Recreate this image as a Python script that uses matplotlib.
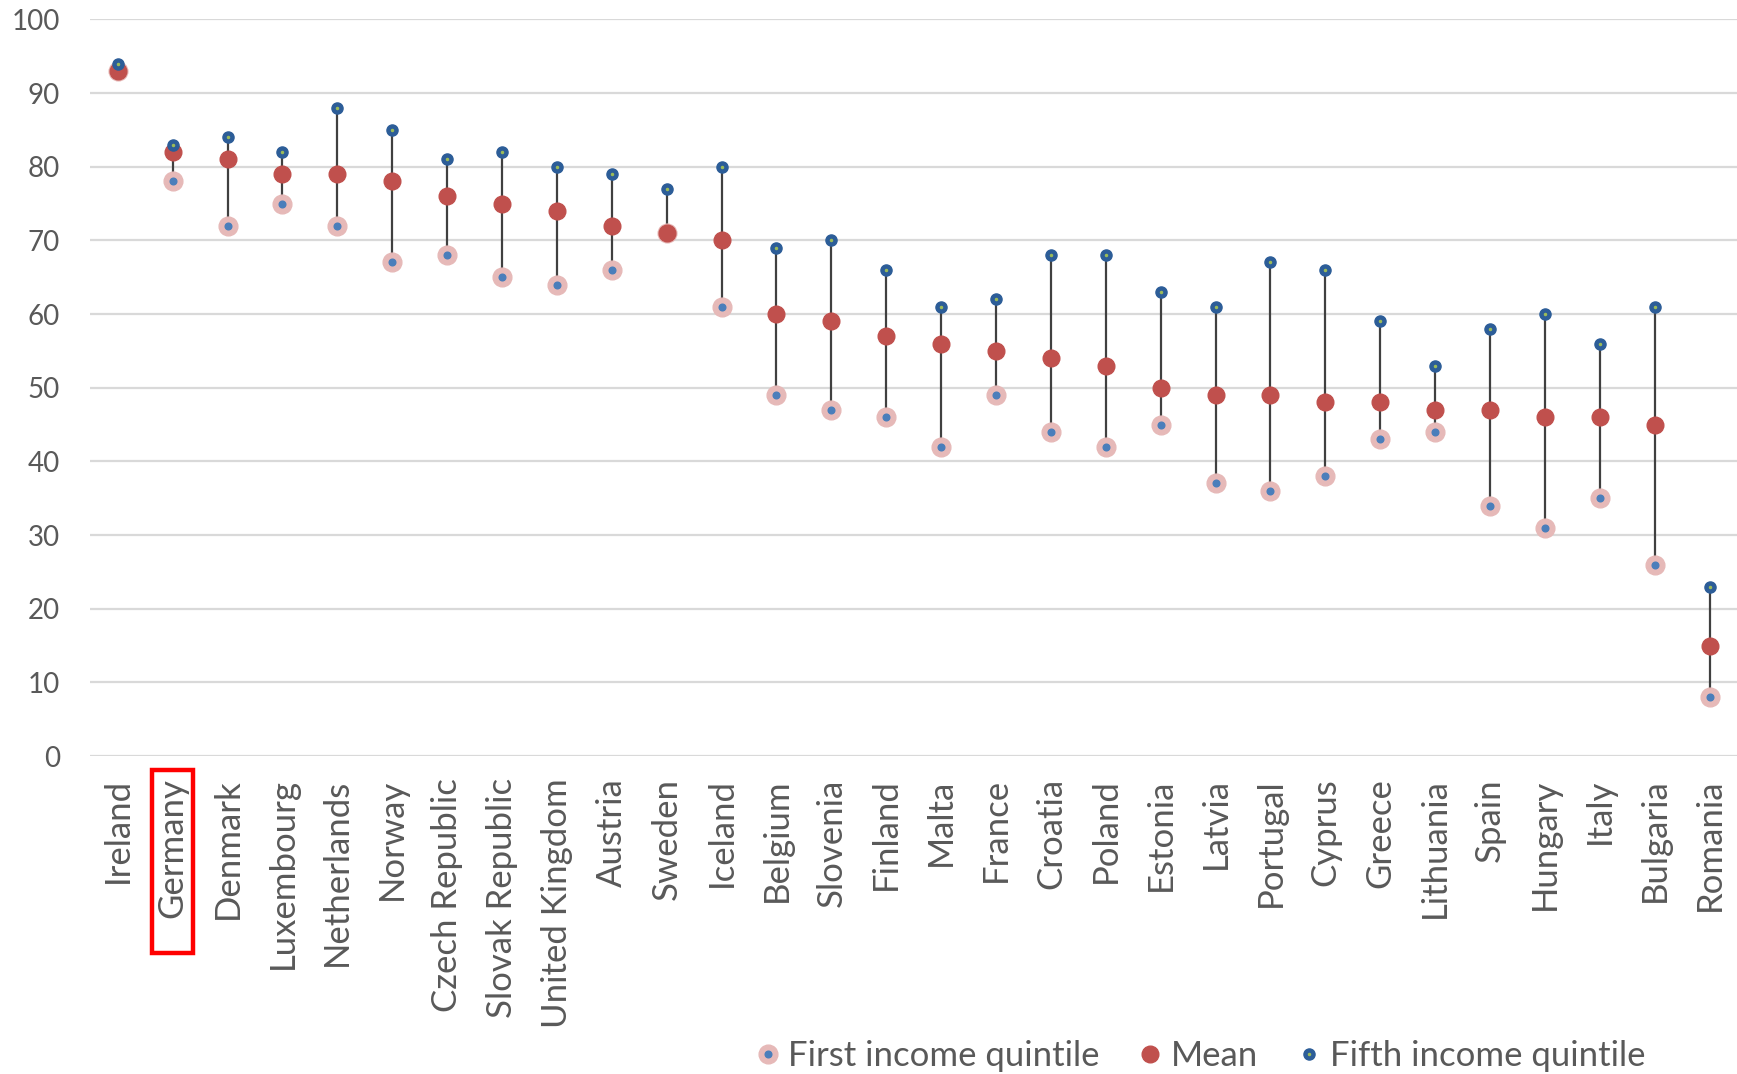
import numpy as np
import matplotlib.pyplot as plt
from matplotlib.lines import Line2D
from matplotlib.patches import Rectangle
from matplotlib.legend_handler import HandlerTuple
import matplotlib.transforms as mtransforms

plt.rcParams['font.family'] = ['Lato', 'DejaVu Sans']

# pays, tries par moyenne decroissante
countries = ["Ireland", "Germany", "Denmark", "Luxembourg", "Netherlands", "Norway",
             "Czech Republic", "Slovak Republic", "United Kingdom", "Austria", "Sweden",
             "Iceland", "Belgium", "Slovenia", "Finland", "Malta", "France", "Croatia",
             "Poland", "Estonia", "Latvia", "Portugal", "Cyprus", "Greece", "Lithuania",
             "Spain", "Hungary", "Italy", "Bulgaria", "Romania"]
first_quintile = [93, 78, 72, 75, 72, 67, 68, 65, 64, 66, 71, 61, 49, 47, 46, 42, 49, 44,
                  42, 45, 37, 36, 38, 43, 44, 34, 31, 35, 26, 8]
mean = [93, 82, 81, 79, 79, 78, 76, 75, 74, 72, 71, 70, 60, 59, 57, 56, 55, 54,
        53, 50, 49, 49, 48, 48, 47, 47, 46, 46, 45, 15]
fifth_quintile = [94, 83, 84, 82, 88, 85, 81, 82, 80, 79, 77, 80, 69, 70, 66, 61, 62, 68,
                  68, 63, 61, 67, 66, 59, 53, 58, 60, 56, 61, 23]
highlight = "Germany"

GREY_TXT = "#595959"
PINK = "#e6b9b8"
INNER = "#4a7ebb"
RED = "#c0504d"
DARK = "#2c5d98"

x = np.arange(len(countries))

fig = plt.figure(figsize=(17.37, 10.74), dpi=100)
ax = fig.add_axes([0.052, 0.296, 0.948, 0.686])

# barres verticales entre 1er et 5e quintile
ax.vlines(x, first_quintile, fifth_quintile, color="#404040", lw=1.6, zorder=2)

ax.plot(x, first_quintile, ls="none", marker="o", ms=13.5, mfc=PINK, mec=PINK, zorder=3)
ax.plot(x, first_quintile, ls="none", marker="o", ms=4.8, mfc=INNER, mec=INNER, zorder=3)
ax.plot(x, mean, ls="none", marker="o", ms=12, mfc=RED, mec=RED, zorder=4)
ax.plot(x, fifth_quintile, ls="none", marker="o", ms=8, mfc=DARK, mec=DARK, zorder=5)
ax.plot(x, fifth_quintile, ls="none", marker="o", ms=1.5, mfc="#9bbb59", mec="#9bbb59", zorder=6)

ax.set_xlim(-0.5, len(countries) - 0.5)
ax.set_ylim(0, 100)
ax.set_yticks(range(0, 101, 10))
ax.set_xticks(x)
ax.set_xticklabels(countries, rotation=90, ha="center", va="top")
ax.tick_params(axis="y", length=0, pad=22, labelsize=20, labelcolor=GREY_TXT)
ax.tick_params(axis="x", length=0, pad=16, labelsize=25, labelcolor=GREY_TXT)
ax.grid(axis="y", color="#d9d9d9", lw=1.6)
ax.set_axisbelow(True)
for s in ax.spines.values():
    s.set_visible(False)

# cadre rouge autour du pays mis en avant
i = countries.index(highlight)
trans = mtransforms.blended_transform_factory(ax.transData, ax.transAxes)
ax.add_patch(Rectangle((i - 0.37, -0.267), 0.74, 0.248, transform=trans, fill=False,
                       ec="#ff0000", lw=3.2, clip_on=False))

h_first = (Line2D([], [], ls="none", marker="o", ms=13.5, mfc=PINK, mec=PINK),
           Line2D([], [], ls="none", marker="o", ms=4.8, mfc=INNER, mec=INNER))
h_mean = Line2D([], [], ls="none", marker="o", ms=12, mfc=RED, mec=RED)
h_fifth = (Line2D([], [], ls="none", marker="o", ms=8, mfc=DARK, mec=DARK),
           Line2D([], [], ls="none", marker="o", ms=1.5, mfc="#9bbb59", mec="#9bbb59"))
leg = fig.legend([h_first, h_mean, h_fifth],
                 ["First income quintile", "Mean", "Fifth income quintile"],
                 handler_map={tuple: HandlerTuple(ndivide=1, pad=0)},
                 loc="center", bbox_to_anchor=(0.692, 0.017), ncol=3, frameon=False,
                 fontsize=25, handlelength=0.5, handletextpad=0.35, columnspacing=1.2)
for t in leg.get_texts():
    t.set_color(GREY_TXT)

fig.savefig("out.png", dpi=100)
